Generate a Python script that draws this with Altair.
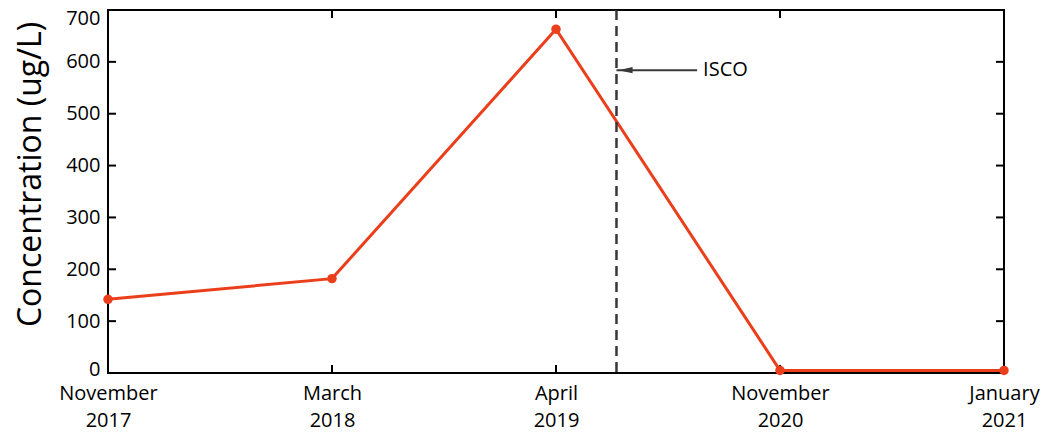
import altair as alt
import pandas as pd

categories = ["November 2017", "March 2018", "April 2019", "November 2020", "January 2021"]
values = [142, 182, 663, 5, 5]
y_ticks = [0, 100, 200, 300, 400, 500, 600, 700]
isco_label = "ISCO"
isco_pos = 2.27      # between April 2019 and November 2020
isco_arrow_start = 2.63
isco_level = 584

FONT = "Open Sans"
RED = "#EB3F1C"
DARK = "#383838"
W, H = 896, 363

df = pd.DataFrame({"idx": list(range(len(categories))), "cat": categories, "value": values})
ticks_df = pd.DataFrame({"v": y_ticks})
cat_df = pd.DataFrame({"idx": list(range(len(categories)))})

label_list = "[" + ",".join("'" + c + "'" for c in categories) + "]"

xscale = alt.Scale(domain=[0, len(categories) - 1], nice=False, zero=False)
yscale = alt.Scale(domain=[0, 700], nice=False)

x_enc = alt.X(
    "idx:Q",
    scale=xscale,
    axis=alt.Axis(
        values=list(range(len(categories))),
        labelExpr="split(" + label_list + "[datum.value], ' ')",
        title=None,
        grid=False,
        domain=False,
        ticks=False,
        labelFont=FONT,
        labelFontSize=20,
        labelColor="black",
        labelPadding=10,
        labelLineHeight=27,
        labelAlign="center",
        labelBaseline="top",
        labelOverlap=False,
        labelFlush=False,
    ),
)
y_enc = alt.Y(
    "value:Q",
    scale=yscale,
    axis=alt.Axis(
        values=y_ticks,
        title="Concentration (ug/L)",
        titleFont=FONT,
        titleFontSize=32,
        titleFontWeight="normal",
        titleColor="black",
        titlePadding=18,
        titleY=164,
        grid=False,
        domain=False,
        ticks=False,
        labelFont=FONT,
        labelFontSize=20,
        labelColor="black",
        labelPadding=8,
        labelOffset={
            "condition": [
                {"test": "datum.value == 700", "value": 8},
                {"test": "datum.value == 0", "value": -4},
            ],
            "value": 0,
        },
    ),
)

line = alt.Chart(df).mark_line(color=RED, strokeWidth=3).encode(x=x_enc, y=y_enc)
pts = alt.Chart(df).mark_circle(color=RED, size=90, opacity=1).encode(x="idx:Q", y="value:Q")

# inward ticks
yt_left = alt.Chart(ticks_df).mark_rule(color="black", strokeWidth=2).encode(
    y=alt.Y("v:Q", scale=yscale), x=alt.value(0), x2=alt.value(8))
yt_right = alt.Chart(ticks_df).mark_rule(color="black", strokeWidth=2).encode(
    y=alt.Y("v:Q", scale=yscale), x=alt.value(W - 8), x2=alt.value(W))
xt_bot = alt.Chart(cat_df).mark_rule(color="black", strokeWidth=2).encode(
    x=alt.X("idx:Q", scale=xscale), y=alt.value(H - 8), y2=alt.value(H))
xt_top = alt.Chart(cat_df).mark_rule(color="black", strokeWidth=2).encode(
    x=alt.X("idx:Q", scale=xscale), y=alt.value(0), y2=alt.value(8))

ann_df = pd.DataFrame({"x": [isco_pos], "x0": [isco_arrow_start], "y": [isco_level], "t": [isco_label]})
dash = alt.Chart(ann_df).mark_rule(color=DARK, strokeWidth=2.5, strokeDash=[10, 6]).encode(
    x=alt.X("x:Q", scale=xscale), y=alt.value(0), y2=alt.value(H))
arrow_shaft = alt.Chart(ann_df).mark_rule(color=DARK, strokeWidth=2).encode(
    x=alt.X("x:Q", scale=xscale), x2="x0:Q", y=alt.Y("y:Q", scale=yscale))
arrow_head = alt.Chart(ann_df).mark_point(
    shape="M-1,0L1,-0.45L1,0.45Z", filled=True, color=DARK, size=200, opacity=1,
    xOffset=9).encode(x=alt.X("x:Q", scale=xscale), y=alt.Y("y:Q", scale=yscale))
text = alt.Chart(ann_df).mark_text(
    align="left", baseline="middle", font=FONT, fontSize=20, color="black", dx=6).encode(
    x=alt.X("x0:Q", scale=xscale), y=alt.Y("y:Q", scale=yscale), text="t:N")

chart = alt.layer(
    line, dash, arrow_shaft, arrow_head, text, yt_left, yt_right, xt_bot, xt_top, pts
).properties(
    width=W, height=H,
    autosize=alt.AutoSizeParams(type="none"),
    padding={"left": 100, "top": 2, "right": 41, "bottom": 63},
).configure(
    background="white"
).configure_view(
    stroke="black", strokeWidth=2
)

chart.save("out.html", embed_options={"renderer": "svg", "actions": False})
